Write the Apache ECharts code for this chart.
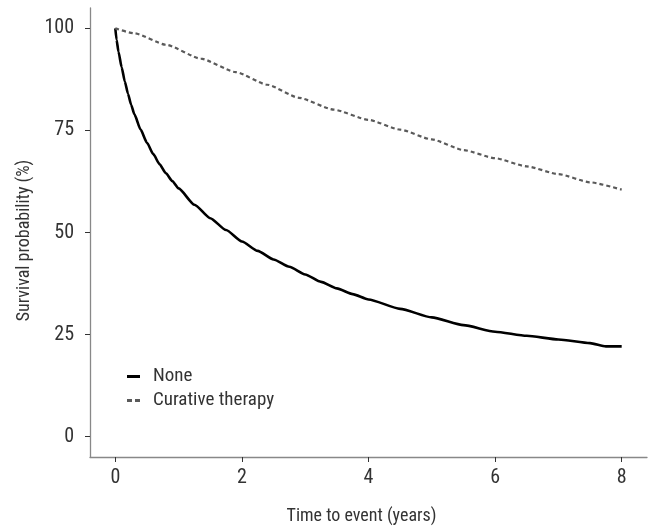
<!DOCTYPE html>
<html>
<head>
<meta charset="utf-8">
<script src="https://cdn.jsdelivr.net/npm/echarts@6/dist/echarts.min.js"></script>
<style>html,body{margin:0;padding:0;background:#fff;}#c{width:651px;height:530px;}</style>
</head>
<body>
<div id="c"></div>
<script>
const seriesNames = ['None', 'Curative therapy'];
const xTicks = [0, 2, 4, 6, 8];
const yTicks = [0, 25, 50, 75, 100];
const noneCurve = [[0,100],[0.02,97.2],[0.05,94.3],[0.1,90.5],[0.15,87],[0.2,84],[0.25,81.3],[0.3,79],[0.4,75.2],[0.5,72],[0.6,69.2],[0.7,66.7],[0.8,64.5],[0.9,62.6],[1.0,60.8],[1.25,56.8],[1.5,53.5],[1.75,50.6],[2.0,47.8],[2.25,45.5],[2.5,43.4],[2.75,41.6],[3.0,39.7],[3.25,37.9],[3.5,36.3],[3.75,34.9],[4.0,33.6],[4.5,31.3],[5.0,29.2],[5.5,27.3],[6.0,25.7],[6.5,24.7],[7.0,23.8],[7.5,22.9],[7.75,22.1],[8,22.1]];
const curativeCurve = [[0,100],[0.3,98.8],[0.8,96],[1.35,92.6],[1.9,89.3],[2.4,86.2],[2.9,83],[3.45,80.1],[4.0,77.6],[4.5,75.2],[5.0,72.8],[5.5,70.2],[6.0,68.2],[6.5,66.2],[7.0,64.3],[7.5,62.3],[8.0,60.5]];

const FONT = '"Liberation Sans Narrow", "Roboto Condensed", "DejaVu Sans Condensed", sans-serif';
const chart = echarts.init(document.getElementById('c'), null, {renderer: 'canvas'});
chart.setOption({
  animation: false,
  backgroundColor: '#fff',
  textStyle: {fontFamily: FONT},
  grid: {left: 90, right: 4, top: 8, bottom: 68},
  legend: {
    orient: 'vertical', left: 127, top: 367, padding: 0, itemWidth: 13, itemHeight: 3, itemGap: 5,
    itemStyle: {borderWidth: 0},
    textStyle: {fontFamily: FONT, fontSize: 19, color: '#333', padding: [0, 0, 0, 8]},
    data: [
      {name: seriesNames[0], icon: 'rect'},
      {name: seriesNames[1], icon: 'path://M0,0H5V3H0Z M8,0H13V3H8Z'}
    ]
  },
  xAxis: {
    type: 'value', min: -0.4, max: 8.4,
    name: 'Time to event (years)', nameLocation: 'middle', nameGap: 50,
    nameTextStyle: {fontFamily: FONT, fontSize: 18, color: '#333', padding: [0, 14, 0, 0]},
    axisLine: {show: true, onZero: false, lineStyle: {color: '#888', width: 1.3}},
    axisTick: {show: true, customValues: xTicks, length: 5, lineStyle: {color: '#333', width: 1}},
    axisLabel: {customValues: xTicks, fontFamily: FONT, fontSize: 20, color: '#333', margin: 11},
    splitLine: {show: false}
  },
  yAxis: {
    type: 'value', min: -5, max: 105,
    name: 'Survival probability (%)', nameLocation: 'middle', nameGap: 55,
    nameTextStyle: {fontFamily: FONT, fontSize: 18, color: '#333', padding: [0, 16, 0, 0]},
    axisLine: {show: true, onZero: false, lineStyle: {color: '#888', width: 1.3}},
    axisTick: {show: true, customValues: yTicks, length: 5, lineStyle: {color: '#333', width: 1}},
    axisLabel: {customValues: yTicks, fontFamily: FONT, fontSize: 20, color: '#333', margin: 16},
    splitLine: {show: false}
  },
  series: [
    {name: seriesNames[0], type: 'line', data: noneCurve, showSymbol: false, symbol: 'none',
     smooth: 0.2, smoothMonotone: 'x',
     lineStyle: {color: '#000', width: 2.6}, itemStyle: {color: '#000'}},
    {name: seriesNames[1], type: 'line', data: curativeCurve, showSymbol: false, symbol: 'none',
     smooth: 0.2, smoothMonotone: 'x',
     lineStyle: {color: '#5a5a5a', width: 2.2, type: [4, 3]}, itemStyle: {color: '#5a5a5a'}}
  ]
});
</script>
</body>
</html>
